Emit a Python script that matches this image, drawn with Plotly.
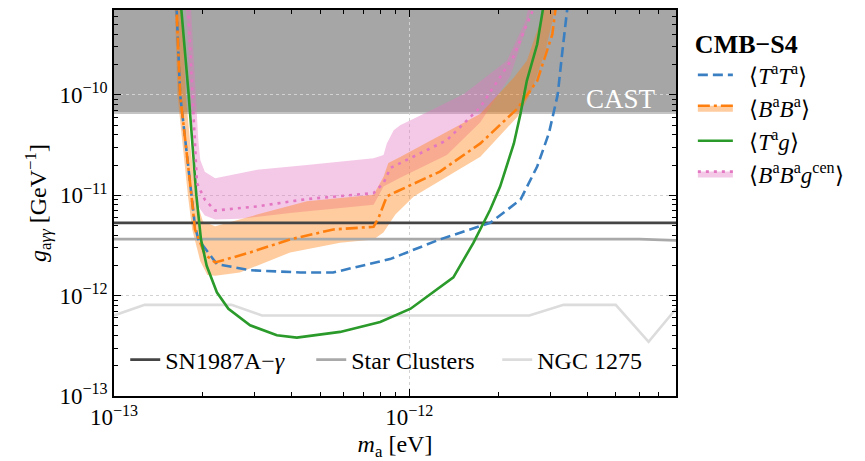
import math
import plotly.graph_objects as go

# ---------------- axis limits / reference values ----------------
M_MIN, M_MAX = 1e-13, 8e-12
G_MIN, G_MAX = 1e-13, 7e-10
CAST_LIMIT = 6.6e-11

# ---------------- CMB-S4 forecasts ----------------
# <T^a T^a>  (blue dashed)
tt_m = [1.62e-13, 1.675e-13, 1.83e-13, 1.88e-13, 1.93e-13, 2.23e-13, 2.89e-13, 4.28e-13, 5.52e-13,
        8.6e-13, 1.27e-12, 1.88e-12, 2.38e-12, 2.71e-12, 2.97e-12, 3.18e-12, 3.3e-12, 3.48e-12]
tt_g = [1.07e-9, 1.0e-10, 1.0e-11, 4.92e-12, 3.63e-12, 2.06e-12, 1.79e-12, 1.70e-12, 1.70e-12,
        2.31e-12, 3.63e-12, 5.31e-12, 9.04e-12, 1.93e-11, 4.15e-11, 1.0e-10, 2.74e-10, 1.07e-9]

# <B^a B^a>  (orange dash-dot) and its band
bb_m = [1.62e-13, 1.675e-13, 1.83e-13, 1.88e-13, 2.03e-13, 2.20e-13, 2.89e-13, 3.95e-13, 5.53e-13,
        7.57e-13, 7.87e-13, 8.39e-13, 9.08e-13, 1.27e-12, 1.74e-12, 2.32e-12, 2.71e-12, 2.85e-12,
        3.05e-12, 3.15e-12]
bb_g = [1.07e-9, 1.0e-10, 9.9e-12, 4.56e-12, 2.58e-12, 2.14e-12, 2.69e-12, 3.63e-12, 4.56e-12,
        4.85e-12, 5.96e-12, 9.73e-12, 1.09e-11, 1.72e-11, 3.28e-11, 7.27e-11, 1.38e-10, 2.18e-10,
        4.0e-10, 8.55e-10]
bb_up_m = [1.69e-13, 1.75e-13, 1.82e-13, 1.90e-13, 2.00e-13, 2.20e-13, 3.05e-13, 4.50e-13, 7.57e-13,
           8.18e-13, 8.49e-13, 9.31e-13, 1.74e-12, 2.26e-12, 2.50e-12, 2.78e-12, 2.89e-12]
bb_up_g = [1.07e-9, 1.0e-10, 2.82e-11, 9.04e-12, 5.47e-12, 4.92e-12, 6.41e-12, 8.69e-12, 1.01e-11,
           1.53e-11, 2.09e-11, 2.40e-11, 6.49e-11, 1.49e-10, 2.18e-10, 5.42e-10, 1.07e-9]
bb_lo_m = [1.60e-13, 1.64e-13, 1.78e-13, 1.84e-13, 1.96e-13, 2.07e-13, 2.20e-13, 2.67e-13, 3.95e-13,
           5.83e-13, 7.57e-13, 8.17e-13, 8.97e-13, 1.035e-12, 1.74e-12, 2.32e-12, 2.57e-12, 2.89e-12,
           3.05e-12, 3.15e-12]
bb_lo_g = [1.07e-9, 1.0e-10, 9.9e-12, 4.56e-12, 2.20e-12, 1.60e-12, 1.58e-12, 1.70e-12, 2.69e-12,
           3.37e-12, 3.63e-12, 4.26e-12, 6.41e-12, 9.73e-12, 2.42e-11, 6.01e-11, 1.02e-10, 2.74e-10,
           5.42e-10, 1.07e-9]

# <T^a g>  (green solid)
tg_m = [1.67e-13, 1.79e-13, 1.90e-13, 1.97e-13, 2.06e-13, 2.23e-13, 2.44e-13, 2.89e-13, 3.56e-13,
        4.16e-13, 5.83e-13, 7.97e-13, 1.01e-12, 1.41e-12, 1.65e-12, 1.88e-12, 2.03e-12, 2.26e-12,
        2.38e-12, 2.5e-12, 2.71e-12, 2.90e-12]
tg_g = [1.07e-9, 1.0e-10, 1.0e-11, 3.63e-12, 1.98e-12, 1.08e-12, 7.4e-13, 5.06e-13, 4.03e-13,
        3.82e-13, 4.35e-13, 5.46e-13, 7.4e-13, 1.52e-12, 3.37e-12, 7.2e-12, 1.22e-11, 3.28e-11,
        6.5e-11, 1.38e-10, 3.19e-10, 1.07e-9]

# <B^a B^a g^cen>  (pink dotted) and its band
bbg_m = [1.77e-13, 1.84e-13, 1.91e-13, 2.03e-13, 2.20e-13, 3.05e-13, 4.50e-13, 7.57e-13, 8.18e-13,
         8.63e-13, 1.34e-12, 1.74e-12, 2.25e-12, 2.63e-12, 2.70e-12]
bbg_g = [1.07e-9, 1.0e-10, 1.32e-11, 9.04e-12, 7.03e-12, 7.74e-12, 9.16e-12, 1.05e-11, 1.32e-11,
         1.87e-11, 3.53e-11, 7.54e-11, 2.39e-10, 7.13e-10, 1.07e-9]
bbg_up_m = [1.81e-13, 1.90e-13, 1.93e-13, 1.96e-13, 2.03e-13, 2.20e-13, 3.05e-13, 4.50e-13, 7.57e-13,
            8.18e-13, 8.39e-13, 8.85e-13, 9.31e-13, 1.18e-12, 1.53e-12, 2.14e-12, 2.47e-12, 2.61e-12]
bbg_up_g = [1.07e-9, 1.0e-10, 3.53e-11, 2.24e-11, 1.71e-11, 1.48e-11, 1.79e-11, 2.0e-11, 2.33e-11,
            2.51e-11, 3.28e-11, 4.44e-11, 4.97e-11, 7.0e-11, 1.02e-10, 2.18e-10, 5.42e-10, 1.07e-9]
bbg_lo_m = [1.74e-13, 1.81e-13, 1.87e-13, 1.91e-13, 2.03e-13, 2.20e-13, 2.67e-13, 3.95e-13, 7.57e-13,
            8.18e-13, 9.31e-13, 1.34e-12, 1.74e-12, 2.20e-12, 2.47e-12, 2.67e-12]
bbg_lo_g = [1.07e-9, 1.0e-10, 1.79e-11, 8.05e-12, 6.27e-12, 5.73e-12, 5.82e-12, 6.67e-12, 8.05e-12,
            1.22e-11, 1.49e-11, 2.51e-11, 5.32e-11, 1.55e-10, 4.31e-10, 1.07e-9]

# ---------------- astrophysical bounds ----------------
sn_m = [1e-13, 8e-12]
sn_g = [5.3e-12, 5.3e-12]
sc_m = [1e-13, 6.0e-12, 8e-12]
sc_g = [3.65e-12, 3.65e-12, 3.55e-12]
ngc_m = [1.0e-13, 1.27e-13, 2.5e-13, 3.17e-13, 2.55e-12, 3.33e-12, 5.0e-12, 6.46e-12, 8.0e-12]
ngc_g = [6.34e-13, 8.09e-13, 8.09e-13, 6.34e-13, 6.34e-13, 8.09e-13, 8.09e-13, 3.47e-13, 7.39e-13]

# tick labels
x_ticks = [1e-13, 1e-12]
x_ticktext = ["10<sup>−13</sup>", "10<sup>−12</sup>"]
y_ticks = [1e-13, 1e-12, 1e-11, 1e-10]
y_ticktext = ["10<sup>−13</sup>", "10<sup>−12</sup>", "10<sup>−11</sup>", "10<sup>−10</sup>"]

# ---------------- styles ----------------
SERIF = "Liberation Serif"
C_BLUE = "#3a7fc1"
C_ORANGE = "#ff7f0e"
C_GREEN = "#2a9a2a"
C_PINK = "#e377c2"
F_ORANGE = "rgba(255,127,14,0.4)"
F_PINK = "rgba(227,119,194,0.4)"
W = 2.6
PAD = "\u00a0\u00a0"

labels = {
    "tt": PAD + "⟨<i>T</i><sup>a</sup><i>T</i><sup>a</sup>⟩",
    "bb": PAD + "⟨<i>B</i><sup>a</sup><i>B</i><sup>a</sup>⟩",
    "tg": PAD + "⟨<i>T</i><sup>a</sup><i>g</i>⟩",
    "bbg": PAD + "⟨<i>B</i><sup>a</sup><i>B</i><sup>a</sup><i>g</i><sup>cen</sup>⟩",
}

fig = go.Figure()

# bands (pink first, orange on top)
fig.add_trace(go.Scatter(x=bbg_up_m + bbg_lo_m[::-1], y=bbg_up_g + bbg_lo_g[::-1], mode="lines",
                         fill="toself", fillcolor=F_PINK, line=dict(width=0), showlegend=False,
                         hoverinfo="skip"))
fig.add_trace(go.Scatter(x=bb_up_m + bb_lo_m[::-1], y=bb_up_g + bb_lo_g[::-1], mode="lines",
                         fill="toself", fillcolor=F_ORANGE, line=dict(width=0), showlegend=False,
                         hoverinfo="skip"))

# astrophysical horizontal bounds
fig.add_trace(go.Scatter(x=ngc_m, y=ngc_g, mode="lines", line=dict(color="#dcdcdc", width=2.6),
                         name="NGC 1275", legend="legend2", legendrank=3))
fig.add_trace(go.Scatter(x=sc_m, y=sc_g, mode="lines", line=dict(color="#a9a9a9", width=2.6),
                         name="Star Clusters", legend="legend2", legendrank=2))
fig.add_trace(go.Scatter(x=sn_m, y=sn_g, mode="lines", line=dict(color="#454545", width=2.6),
                         name="SN1987A−<i>γ</i>", legend="legend2", legendrank=1))

# forecast lines
fig.add_trace(go.Scatter(x=tt_m, y=tt_g, mode="lines",
                         line=dict(color=C_BLUE, width=W, dash="10px,5px"),
                         name=labels["tt"], legendrank=1, legendgroup="a"))
fig.add_trace(go.Scatter(x=bb_m, y=bb_g, mode="lines",
                         line=dict(color=C_ORANGE, width=W, dash="12px,4px,3px,4px"),
                         showlegend=False))
fig.add_trace(go.Scatter(x=tg_m, y=tg_g, mode="lines", line=dict(color=C_GREEN, width=W),
                         name=labels["tg"], legendrank=3, legendgroup="c"))
fig.add_trace(go.Scatter(x=bbg_m, y=bbg_g, mode="lines",
                         line=dict(color=C_PINK, width=W, dash="3px,5px"),
                         showlegend=False))

# legend entries showing band + line
fig.add_trace(go.Scatter(x=[None], y=[None], mode="lines", fill="toself", fillcolor=F_ORANGE,
                         line=dict(color=C_ORANGE, width=W, dash="12px,4px,3px,4px"),
                         name=labels["bb"], legendrank=2, legendgroup="b"))
fig.add_trace(go.Scatter(x=[None], y=[None], mode="lines", fill="toself", fillcolor=F_PINK,
                         line=dict(color=C_PINK, width=W, dash="3px,5px"),
                         name=labels["bbg"], legendrank=4, legendgroup="d"))

axis_common = dict(
    type="log", showline=True, linecolor="black", linewidth=1.6, mirror="allticks",
    ticks="inside", ticklen=7, tickwidth=1, tickcolor="black",
    showgrid=True, gridcolor="#d2d2d2", griddash="dot", gridwidth=1,
    zeroline=False, tickfont=dict(family=SERIF, size=23, color="black"),
)

x_minor = [k * 1e-13 for k in range(2, 10)] + [k * 1e-12 for k in range(2, 9)]
y_minor = [k * d for d in (1e-13, 1e-12, 1e-11, 1e-10) for k in range(2, 10)]

fig.update_xaxes(
    **axis_common,
    range=[math.log10(M_MIN), math.log10(M_MAX)],
    tickmode="array", tickvals=x_ticks, ticktext=x_ticktext,
    minor=dict(tickmode="array", tickvals=x_minor, ticks="inside", ticklen=4,
               tickcolor="black", showgrid=False),
    title=dict(text="<i>m</i><sub>a</sub> [eV]", font=dict(family=SERIF, size=24, color="black"),
               standoff=6),
)
fig.update_yaxes(
    **axis_common,
    range=[math.log10(G_MIN), math.log10(G_MAX)],
    tickmode="array", tickvals=y_ticks, ticktext=y_ticktext,
    minor=dict(tickmode="array", tickvals=y_minor, ticks="inside", ticklen=4,
               tickcolor="black", showgrid=False),
    title=dict(text="<i>g</i><sub>a<i>γγ</i></sub> [GeV<sup>−1</sup>]",
               font=dict(family=SERIF, size=24, color="black"), standoff=6),
)

fig.update_layout(
    width=865, height=461,
    margin=dict(l=114, r=189, t=8, b=63),
    paper_bgcolor="white", plot_bgcolor="white",
    font=dict(family=SERIF, size=23, color="black"),
    shapes=[
        dict(type="rect", xref="paper", x0=0, x1=1, yref="y", y0=CAST_LIMIT, y1=G_MAX,
             fillcolor="#a6a6a6", line=dict(width=0), layer="below"),
        dict(type="line", xref="paper", x0=0, x1=1, yref="y", y0=CAST_LIMIT, y1=CAST_LIMIT,
             line=dict(color="#c4c4c4", width=2), layer="below"),
    ],
    annotations=[
        dict(text="CAST", xref="paper", yref="paper", x=0.902, y=0.769, showarrow=False,
             xanchor="center", yanchor="middle",
             font=dict(family=SERIF, size=27, color="white")),
    ],
    legend=dict(
        title=dict(text="<b>CMB−S4</b>", font=dict(family=SERIF, size=26, color="black")),
        x=1.03, xanchor="left", y=0.975, yanchor="top",
        font=dict(family=SERIF, size=23, color="black"),
        bgcolor="rgba(0,0,0,0)", tracegroupgap=2, traceorder="normal", itemwidth=35,
    ),
    legend2=dict(
        orientation="h", x=0.02, xanchor="left", y=0.035, yanchor="bottom",
        font=dict(family=SERIF, size=24, color="black"),
        bgcolor="rgba(0,0,0,0)", entrywidth=141, entrywidthmode="pixels",
    ),
)

fig.write_html("out.html")
